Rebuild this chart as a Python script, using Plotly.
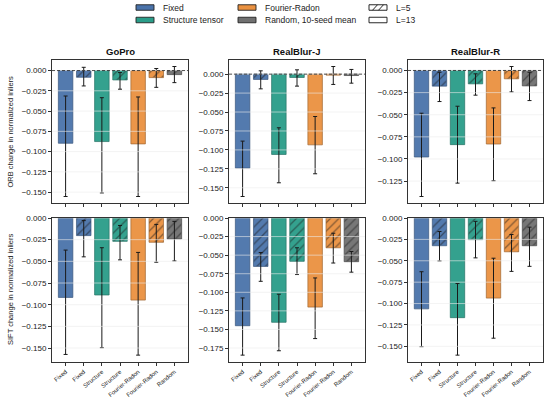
"""Normalized-inlier change per method, ORB and SIFT, three datasets."""
import plotly.graph_objects as go

# ---- data ----
datasets = ["GoPro", "RealBlur-J", "RealBlur-R"]
features = ["ORB", "SIFT"]
tick_labels = ["Fixed", "Fixed", "Structure", "Structure",
               "Fourier-Radon", "Fourier-Radon", "Random"]
methods = ["Fixed", "Fixed", "Structure tensor", "Structure tensor",
           "Fourier-Radon", "Fourier-Radon", "Random, 10-seed mean"]
window = [13, 5, 13, 5, 13, 5, 5]

orb_gopro_mean = [-0.0897, -0.0083, -0.0876, -0.0116, -0.0905, -0.0087, -0.0050]
orb_gopro_hi = [-0.0314, 0.0040, -0.0335, -0.0025, -0.0326, 0.0025, 0.0050]
orb_gopro_lo = [-0.1554, -0.0190, -0.1510, -0.0230, -0.1554, -0.0207, -0.0149]

orb_j_mean = [-0.1240, -0.0070, -0.1060, -0.0044, -0.0933, -0.0013, -0.0018]
orb_j_hi = [-0.0884, 0.0044, -0.0708, 0.0057, -0.0559, 0.0101, 0.0062]
orb_j_lo = [-0.1615, -0.0194, -0.1434, -0.0158, -0.1315, -0.0136, -0.0119]

orb_r_mean = [-0.0978, -0.0177, -0.0838, -0.0151, -0.0831, -0.0094, -0.0174]
orb_r_hi = [-0.0483, -0.0020, -0.0404, -0.0038, -0.0423, 0.0045, -0.0020]
orb_r_lo = [-0.1424, -0.0351, -0.1273, -0.0279, -0.1246, -0.0242, -0.0340]

sift_gopro_mean = [-0.0916, -0.0203, -0.0888, -0.0269, -0.0947, -0.0280, -0.0242]
sift_gopro_hi = [-0.0370, -0.0030, -0.0343, -0.0086, -0.0397, -0.0074, -0.0039]
sift_gopro_lo = [-0.1574, -0.0448, -0.1496, -0.0483, -0.1582, -0.0510, -0.0495]

sift_j_mean = [-0.1450, -0.0652, -0.1404, -0.0583, -0.1199, -0.0401, -0.0588]
sift_j_hi = [-0.1076, -0.0465, -0.1026, -0.0401, -0.0807, -0.0205, -0.0451]
sift_j_lo = [-0.1846, -0.0852, -0.1787, -0.0761, -0.1623, -0.0606, -0.0729]

sift_r_mean = [-0.1062, -0.0324, -0.1165, -0.0253, -0.0936, -0.0395, -0.0324]
sift_r_hi = [-0.0628, -0.0158, -0.0766, -0.0039, -0.0470, -0.0193, -0.0107]
sift_r_lo = [-0.1504, -0.0501, -0.1603, -0.0466, -0.1405, -0.0624, -0.0565]

panels = {
    ("ORB", "GoPro"): (orb_gopro_mean, orb_gopro_hi, orb_gopro_lo),
    ("ORB", "RealBlur-J"): (orb_j_mean, orb_j_hi, orb_j_lo),
    ("ORB", "RealBlur-R"): (orb_r_mean, orb_r_hi, orb_r_lo),
    ("SIFT", "GoPro"): (sift_gopro_mean, sift_gopro_hi, sift_gopro_lo),
    ("SIFT", "RealBlur-J"): (sift_j_mean, sift_j_hi, sift_j_lo),
    ("SIFT", "RealBlur-R"): (sift_r_mean, sift_r_hi, sift_r_lo),
}

colors = {
    "Fixed": "#4a73aa",
    "Structure tensor": "#2a9d89",
    "Fourier-Radon": "#ea9140",
    "Random, 10-seed mean": "#707070",
}
edges = {
    "Fixed": "#2f4d75",
    "Structure tensor": "#1b6b5d",
    "Fourier-Radon": "#9c5e25",
    "Random, 10-seed mean": "#3d3d3d",
}

W, H = 550, 404
FONT = "Liberation Sans, Arial, sans-serif"
col_px = [(52, 188), (229, 365), (408, 543)]
row_px = [(60, 203), (218, 362)]


def px(x, y):
    """pixel position -> paper coordinates"""
    return x / W, 1 - y / H


fig = go.Figure()
xs = list(range(len(tick_labels)))

for r, feat in enumerate(features):
    for c, ds in enumerate(datasets):
        n = r * 3 + c + 1
        xa = "x" if n == 1 else f"x{n}"
        ya = "y" if n == 1 else f"y{n}"
        mean, hi, lo = panels[(feat, ds)]
        for i in xs:
            m = methods[i]
            hatched = window[i] == 5
            fig.add_trace(go.Bar(
                x=[xs[i]], y=[mean[i]], xaxis=xa, yaxis=ya,
                width=0.8, showlegend=False,
                marker=dict(
                    color=colors[m],
                    opacity=0.95,
                    line=dict(color=edges[m], width=0.7),
                    pattern=dict(shape="/" if hatched else "", size=6,
                                 solidity=0.22, fgcolor="#111",
                                 bgcolor=colors[m]),
                ),
                error_y=dict(type="data", symmetric=False,
                             array=[hi[i] - mean[i]],
                             arrayminus=[mean[i] - lo[i]],
                             color="#1a1a1a", thickness=1, width=2),
            ))

        # axis limits like matplotlib autoscale (5% margin), top clamped to 0
        top = max(hi)
        bot = min(lo)
        span = max(top, 0) - bot
        ymin = bot - 0.05 * span
        ymax = top + 0.05 * span if top > 0 else 0.0

        x0, x1 = col_px[c]
        y0, y1 = row_px[r]
        common = dict(showline=True, linecolor="#333", linewidth=1,
                      mirror=True, ticks="outside", ticklen=3,
                      tickcolor="#333", automargin=False)
        fig.layout[f"xaxis{'' if n == 1 else n}"] = dict(
            domain=[x0 / W, x1 / W], anchor=ya, range=[-0.75, 6.75],
            tickvals=xs, ticktext=tick_labels if r == 1 else [""] * 7,
            tickangle=-40, tickfont=dict(size=6, color="#222"),
            showgrid=False, zeroline=False, **common)
        fig.layout[f"yaxis{'' if n == 1 else n}"] = dict(
            domain=[1 - y1 / H, 1 - y0 / H], anchor=xa,
            range=[ymin, ymax], dtick=0.025, tickformat=".3f",
            tickfont=dict(size=8, color="#222"),
            showgrid=False, zeroline=False, **common)

        # light grid drawn over the bars
        k = 0
        while -0.025 * k >= ymin:
            fig.add_shape(type="line", xref=f"{xa} domain", yref=ya,
                          x0=0, x1=1, y0=-0.025 * k, y1=-0.025 * k,
                          line=dict(color="rgba(235,235,235,0.6)", width=1),
                          layer="above")
            k += 1
        if r == 0:
            fig.add_shape(type="line", xref=f"{xa} domain", yref=ya,
                          x0=0, x1=1, y0=0, y1=0,
                          line=dict(color="#222", width=0.8, dash="3px,2px"),
                          layer="above")
            fig.add_annotation(text=f"<b>{ds}</b>", x=(x0 + x1) / 2 / W,
                               y=1 - 51 / H, xref="paper", yref="paper",
                               xanchor="center", yanchor="middle",
                               showarrow=False, font=dict(size=9.5, color="#111"))
        if c == 0:
            fig.add_annotation(text=f"{feat} change in normalized inliers",
                               x=10 / W, y=1 - (y0 + y1) / 2 / H,
                               xref="paper", yref="paper", textangle=-90,
                               xanchor="center", yanchor="middle",
                               showarrow=False, font=dict(size=7.5, color="#222"))

# legend drawn by hand: three columns of swatch + label
# (label, fill, edge, hatched, swatch-left px, row-centre px)
legend_items = [
    ("Fixed", colors["Fixed"], "#222", False, 136, 7.5),
    ("Structure tensor", colors["Structure tensor"], "#222", False, 136, 20),
    ("Fourier-Radon", colors["Fourier-Radon"], "#222", False, 238, 7.5),
    ("Random, 10-seed mean", colors["Random, 10-seed mean"], "#222", False, 238, 20),
    ("L=5", "white", "#111", True, 369, 7.5),
    ("L=13", "white", "#111", False, 369, 20),
]
sw_w, sw_h = 18, 5.5
for name, col, edge, hatched, sx, sy in legend_items:
    ax0, ay0 = px(sx, sy - sw_h / 2)
    ax1, ay1 = px(sx + sw_w, sy + sw_h / 2)
    fig.add_shape(type="rect", xref="paper", yref="paper",
                  x0=ax0, x1=ax1, y0=ay1, y1=ay0,
                  fillcolor=col, line=dict(color=edge, width=0.9))
    if hatched:
        for off in (6, 12):
            hx0, hy0 = px(sx + off - 2.5, sy + sw_h / 2)
            hx1, hy1 = px(sx + off + 2.5, sy - sw_h / 2)
            fig.add_shape(type="line", xref="paper", yref="paper",
                          x0=hx0, y0=hy0, x1=hx1, y1=hy1,
                          line=dict(color="#111", width=0.9))
    tx, ty = px(sx + sw_w + 6.5, sy)
    fig.add_annotation(text=name, x=tx, y=ty, xref="paper", yref="paper",
                       xanchor="left", yanchor="middle", showarrow=False,
                       font=dict(size=8.5, color="#222"))

fig.update_layout(
    width=W, height=H,
    margin=dict(l=0, r=0, t=0, b=0),
    paper_bgcolor="white", plot_bgcolor="white",
    font=dict(family=FONT, color="#222"),
    barmode="overlay",
    showlegend=False,
)

fig.write_html("out.html", config={"displayModeBar": False},
               post_script="document.body.style.margin='0';")
